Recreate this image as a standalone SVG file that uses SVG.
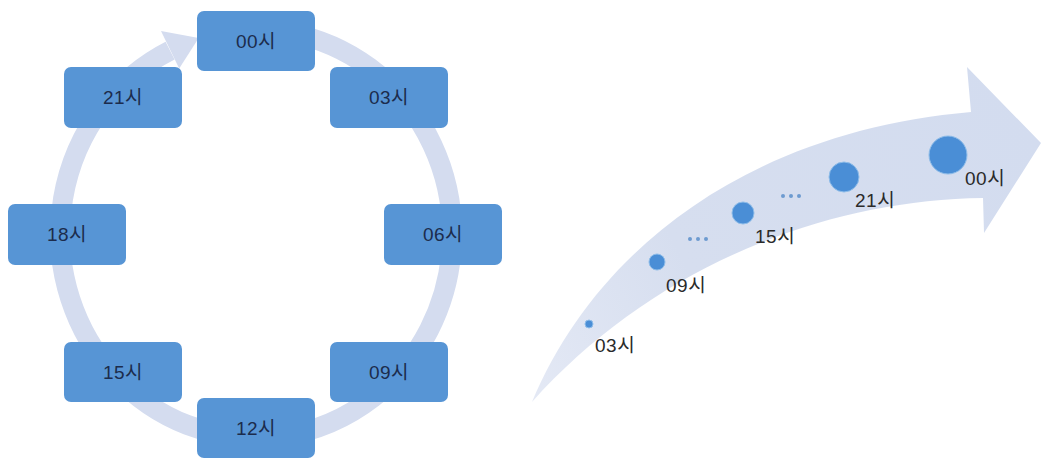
<svg xmlns="http://www.w3.org/2000/svg" width="1048" height="458" viewBox="0 0 1048 458">
  <defs>
    <style>
      .box { fill: #5795d5; }
      .bt { font-family: "Liberation Sans", "Noto Sans CJK KR", sans-serif; font-size: 19px; fill: #1c2c4c; text-anchor: middle; letter-spacing: 0.5px; }
      .lt { font-family: "Liberation Sans", "Noto Sans CJK KR", sans-serif; font-size: 19px; fill: #2a2a2a; letter-spacing: 0.5px; }
      .dot { fill: #4a8ed6; stroke: #8fbde9; stroke-width: 1; }
      .sd { fill: #6d9bd0; }
    </style>
    <linearGradient id="ag" x1="532" y1="402" x2="1040" y2="140" gradientUnits="userSpaceOnUse">
      <stop offset="0" stop-color="#e4e9f5"/>
      <stop offset="0.35" stop-color="#d6deef"/>
      <stop offset="1" stop-color="#d3dcef"/>
    </linearGradient>
  </defs>

  <!-- connectors: cycle ring arrow -->
  <g id="connectors">
    <path d="M 290 33 A 196 204 0 1 1 170.1 50.6" fill="none" stroke="#d4dcef" stroke-width="20"/>
    <polygon points="161,31 198.7,38 179.2,68.4" fill="#d4dcef"/>
  </g>

  <g id="n00"><rect class="box" x="197" y="11" width="118" height="60" rx="7"/><text class="bt" x="256" y="48">00시</text></g>
  <g id="n03"><rect class="box" x="330" y="67" width="118" height="61" rx="7"/><text class="bt" x="389" y="104">03시</text></g>
  <g id="n06"><rect class="box" x="384" y="204" width="118" height="61" rx="7"/><text class="bt" x="443" y="241">06시</text></g>
  <g id="n09"><rect class="box" x="330" y="342" width="118" height="60" rx="7"/><text class="bt" x="389" y="379">09시</text></g>
  <g id="n12"><rect class="box" x="197" y="398" width="118" height="60" rx="7"/><text class="bt" x="256" y="435">12시</text></g>
  <g id="n15"><rect class="box" x="64" y="342" width="118" height="60" rx="7"/><text class="bt" x="123" y="379">15시</text></g>
  <g id="n18"><rect class="box" x="8" y="204" width="118" height="61" rx="7"/><text class="bt" x="67" y="241">18시</text></g>
  <g id="n21"><rect class="box" x="64" y="67" width="118" height="61" rx="7"/><text class="bt" x="123" y="104">21시</text></g>

  <!-- right: curved timeline arrow -->
  <g id="timeline-arrow">
    <path d="M 532 402 C 600 240, 760 130, 971 112 L 967 67 L 1041 143 L 984 233 L 983 198 C 820 200, 650 270, 532 402 Z" fill="url(#ag)"/>
  </g>

  <g id="t03"><circle class="dot" cx="589" cy="324" r="4"/><text class="lt" x="595" y="352">03시</text></g>
  <g id="t09"><circle class="dot" cx="657" cy="262" r="8"/><text class="lt" x="666" y="292">09시</text></g>
  <g id="e1"><circle class="sd" cx="690" cy="239" r="2"/><circle class="sd" cx="698" cy="239" r="2"/><circle class="sd" cx="706" cy="239" r="2"/></g>
  <g id="t15"><circle class="dot" cx="743" cy="213" r="11"/><text class="lt" x="755" y="243">15시</text></g>
  <g id="e2"><circle class="sd" cx="783" cy="196" r="2"/><circle class="sd" cx="791" cy="196" r="2"/><circle class="sd" cx="799" cy="196" r="2"/></g>
  <g id="t21"><circle class="dot" cx="844" cy="177" r="15"/><text class="lt" x="855" y="207">21시</text></g>
  <g id="t00"><circle class="dot" cx="948" cy="155" r="19"/><text class="lt" x="965" y="185">00시</text></g>
</svg>
